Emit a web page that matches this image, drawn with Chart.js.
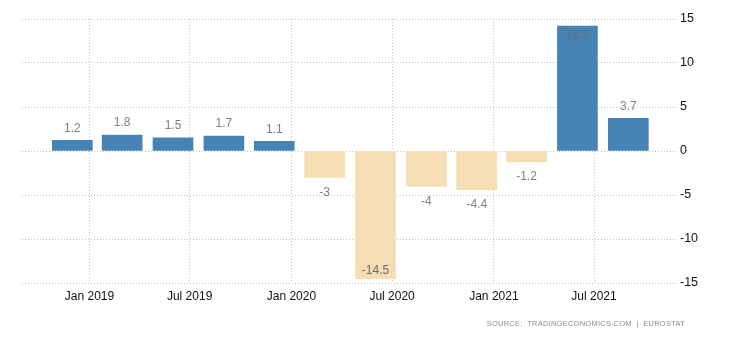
<!DOCTYPE html>
<html lang="en">
<head>
    <meta charset="UTF-8">
    <title>Quarterly GDP Growth</title>
    <style>
        html, body {
            margin: 0;
            padding: 0;
            background: #fff;
        }
        #wrap {
            position: relative;
            width: 730px;
            height: 340px;
        }
        #source {
            position: absolute;
            right: 45px;
            top: 319px;
            font-family: "Liberation Sans", Arial, sans-serif;
            font-size: 7.5px;
            letter-spacing: 0.25px;
            color: #8c8c8c;
            white-space: pre;
        }
    </style>
    <script src="https://cdn.jsdelivr.net/npm/chart.js"></script>
</head>
<body>
    <div id="wrap">
        <canvas id="gdpChart" width="730" height="340"></canvas>
        <div id="source">SOURCE:  TRADINGECONOMICS.COM  |  EUROSTAT</div>
    </div>

    <script>
        // quarterly values, dated like the source does
        const quarters = ['2018-12-01', '2019-03-01', '2019-06-01', '2019-09-01', '2019-12-01', '2020-03-01',
                          '2020-06-01', '2020-09-01', '2020-12-01', '2021-03-01', '2021-06-01', '2021-09-01'];
        const growth = [1.2, 1.8, 1.5, 1.7, 1.1, -3, -14.5, -4, -4.4, -1.2, 14.2, 3.7];

        const tickDates = ['2019-01-01', '2019-07-01', '2020-01-01', '2020-07-01', '2021-01-01', '2021-07-01'];
        const tickLabels = ['Jan 2019', 'Jul 2019', 'Jan 2020', 'Jul 2020', 'Jan 2021', 'Jul 2021'];
        const yTicks = [-15, -10, -5, 0, 5, 10, 15];

        const xMin = '2018-09-01';
        const xMax = '2021-11-28';

        const ts = d => new Date(d).getTime();
        const tickValues = tickDates.map(ts);

        const points = quarters.map((q, i) => ({ x: ts(q), y: growth[i] }));

        // value labels above/below bars (inside when no room)
        const valueLabels = {
            id: 'valueLabels',
            afterDatasetsDraw(chart) {
                const ctx = chart.ctx;
                const area = chart.chartArea;
                const meta = chart.getDatasetMeta(0);
                ctx.save();
                ctx.font = '12px "Liberation Sans", Arial, sans-serif';
                ctx.textAlign = 'center';
                ctx.textBaseline = 'middle';
                meta.data.forEach((bar, i) => {
                    const v = growth[i];
                    let y;
                    let inside = false;
                    if (v >= 0) {
                        y = bar.y - 12;
                        if (y - 8 < area.top) { y = bar.y + 10; inside = true; }
                    } else {
                        y = bar.y + 15;
                        if (y + 8 > area.bottom) { y = bar.y - 8; inside = true; }
                    }
                    ctx.fillStyle = inside ? '#6b6b6b' : '#7f7f7f';
                    ctx.fillText(String(v), bar.x, y);
                });
                ctx.restore();
            }
        };

        const ctx = document.getElementById('gdpChart').getContext('2d');
        new Chart(ctx, {
            type: 'bar',
            data: {
                datasets: [{
                    data: points,
                    backgroundColor: growth.map(v => v >= 0 ? '#4682b4' : '#f5deb3'),
                    borderWidth: 0,
                    barThickness: 40
                }]
            },
            options: {
                responsive: false,
                animation: false,
                layout: { padding: { left: 22, top: 19, right: 0, bottom: 0 } },
                plugins: {
                    legend: { display: false },
                    tooltip: { enabled: false }
                },
                scales: {
                    x: {
                        type: 'linear',
                        min: ts(xMin),
                        max: ts(xMax),
                        offset: false,
                        afterBuildTicks(scale) {
                            scale.ticks = tickValues.map(v => ({ value: v }));
                        },
                        afterFit(scale) { scale.height = 57; },
                        grid: {
                            offset: false,
                            color: '#c4c4c4',
                            lineWidth: 1,
                            drawTicks: false
                        },
                        border: { display: false, dash: [1, 2] },
                        ticks: {
                            autoSkip: false,
                            maxRotation: 0,
                            padding: 6,
                            color: '#111',
                            font: { family: '"Liberation Sans", Arial, sans-serif', size: 12 },
                            callback: v => tickLabels[tickValues.indexOf(v)]
                        }
                    },
                    y: {
                        position: 'right',
                        min: -15,
                        max: 15,
                        afterBuildTicks(scale) {
                            scale.ticks = yTicks.map(v => ({ value: v }));
                        },
                        afterFit(scale) { scale.width = 53; },
                        grid: {
                            color: '#c4c4c4',
                            lineWidth: 1,
                            drawTicks: false
                        },
                        border: { display: false, dash: [1, 2] },
                        ticks: {
                            padding: 3,
                            color: '#111',
                            font: { family: '"Liberation Sans", Arial, sans-serif', size: 12.5 }
                        }
                    }
                }
            },
            plugins: [valueLabels]
        });
    </script>
</body>
</html>
